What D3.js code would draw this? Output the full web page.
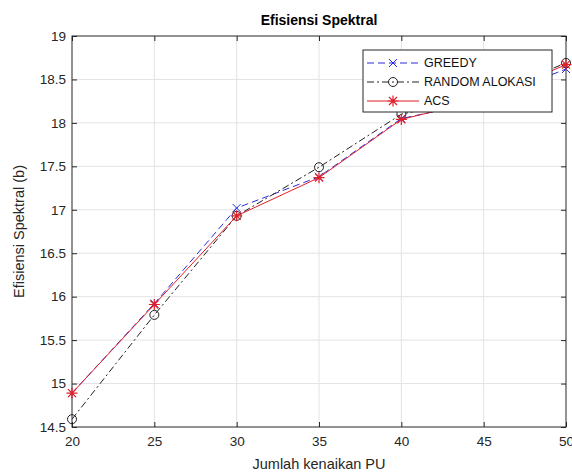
<!DOCTYPE html>
<html>
<head>
<meta charset="utf-8">
<script src="https://cdn.jsdelivr.net/npm/d3@7"></script>
<style>
  body { margin: 0; background: #fff; }
  text { font-family: "Liberation Sans", Arial, sans-serif; }
</style>
</head>
<body>
<svg id="chart" width="572" height="474"></svg>
<script>
var xValues = [20, 25, 30, 35, 40, 45, 50];
var greedy = [14.89, 15.92, 17.02, 17.38, 18.05, 18.25, 18.62];
var randomAlokasi = [14.59, 15.79, 16.93, 17.49, 18.10, 18.30, 18.69];
var acs = [14.89, 15.91, 16.93, 17.37, 18.04, 18.27, 18.67];
var xTicks = [20, 25, 30, 35, 40, 45, 50];
var yTicks = [14.5, 15, 15.5, 16, 16.5, 17, 17.5, 18, 18.5, 19];

var series = [
  {name: "GREEDY", values: greedy, color: "#2b2bd9", dash: "7,4", marker: "x"},
  {name: "RANDOM ALOKASI", values: randomAlokasi, color: "#222", dash: "7,3,2,3", marker: "o"},
  {name: "ACS", values: acs, color: "#e0202a", dash: null, marker: "*"}
];

var svg = d3.select("#chart"),
    margin = {top: 36, right: 6, bottom: 47, left: 72},
    width = +svg.attr("width") - margin.left - margin.right,
    height = +svg.attr("height") - margin.top - margin.bottom,
    g = svg.append("g").attr("transform", "translate(" + margin.left + "," + margin.top + ")");

var x = d3.scaleLinear().domain([20, 50]).range([0, width]);
var y = d3.scaleLinear().domain([14.5, 19]).range([height, 0]);

// grid
g.append("g").selectAll("line").data(xTicks.slice(1, -1)).enter().append("line")
  .attr("x1", function(d) { return x(d); }).attr("x2", function(d) { return x(d); })
  .attr("y1", 0).attr("y2", height)
  .attr("stroke", "#e3e3e3").attr("stroke-width", 1);
g.append("g").selectAll("line").data(yTicks.slice(1, -1)).enter().append("line")
  .attr("y1", function(d) { return y(d); }).attr("y2", function(d) { return y(d); })
  .attr("x1", 0).attr("x2", width)
  .attr("stroke", "#e3e3e3").attr("stroke-width", 1);

// axes
function styleAxis(sel) {
  sel.select(".domain").remove();
  sel.selectAll("line").attr("stroke", "#262626");
  sel.selectAll("text").attr("fill", "#262626").style("font-size", "13.5px");
}
g.append("g").attr("transform", "translate(0," + height + ")")
  .call(d3.axisBottom(x).tickValues(xTicks).tickSizeInner(-5).tickSizeOuter(0).tickPadding(9))
  .call(styleAxis);
g.append("g")
  .call(d3.axisLeft(y).tickValues(yTicks).tickFormat(function(d) { return String(d); })
    .tickSizeInner(-5).tickSizeOuter(0).tickPadding(6))
  .call(styleAxis);
g.append("g")
  .call(d3.axisTop(x).tickValues(xTicks).tickSizeInner(-5).tickSizeOuter(0).tickFormat(""))
  .call(styleAxis);
g.append("g").attr("transform", "translate(" + width + ",0)")
  .call(d3.axisRight(y).tickValues(yTicks).tickSizeInner(-5).tickSizeOuter(0).tickFormat(""))
  .call(styleAxis);
g.append("rect").attr("width", width).attr("height", height)
  .attr("fill", "none").attr("stroke", "#262626").attr("stroke-width", 1);

var line = d3.line()
  .x(function(d, i) { return x(xValues[i]); })
  .y(function(d) { return y(d); });

function drawMarker(sel, type, color) {
  if (type === "o") {
    sel.append("circle").attr("r", 4.5).attr("fill", "none").attr("stroke", color).attr("stroke-width", 1);
  } else if (type === "x") {
    sel.append("path").attr("d", "M-4,-4L4,4M-4,4L4,-4").attr("stroke", color).attr("stroke-width", 1);
  } else {
    sel.append("path").attr("d", "M-4,-4L4,4M-4,4L4,-4M0,-5.5L0,5.5M-5.5,0L5.5,0").attr("stroke", color).attr("stroke-width", 1.2);
  }
}

var s = g.selectAll(".series").data(series).enter().append("g").attr("class", "series");
s.append("path")
  .attr("d", function(d) { return line(d.values); })
  .attr("fill", "none")
  .attr("stroke", function(d) { return d.color; })
  .attr("stroke-width", 1)
  .attr("stroke-dasharray", function(d) { return d.dash; });
s.each(function(d) {
  var grp = d3.select(this);
  d.values.forEach(function(v, i) {
    var m = grp.append("g").attr("transform", "translate(" + x(xValues[i]) + "," + y(v) + ")");
    drawMarker(m, d.marker, d.color);
  });
});

// legend
var lg = svg.append("g").attr("transform", "translate(363,50)");
lg.append("rect").attr("width", 189).attr("height", 62)
  .attr("fill", "#fff").attr("stroke", "#262626").attr("stroke-width", 1);
var item = lg.selectAll(".item").data(series).enter().append("g")
  .attr("transform", function(d, i) { return "translate(0," + (13 + i * 19) + ")"; });
item.append("line").attr("x1", 4).attr("x2", 56).attr("y1", 0).attr("y2", 0)
  .attr("stroke", function(d) { return d.color; })
  .attr("stroke-dasharray", function(d) { return d.dash; });
item.each(function(d) {
  var m = d3.select(this).append("g").attr("transform", "translate(30,0)");
  drawMarker(m, d.marker, d.color);
});
item.append("text").attr("x", 61).attr("dy", "0.35em")
  .style("font-size", "12.5px").attr("fill", "#111")
  .text(function(d) { return d.name; });

// titles
svg.append("text").attr("x", margin.left + width / 2).attr("y", 25)
  .attr("text-anchor", "middle").style("font-size", "14px").style("font-weight", "bold")
  .attr("fill", "#000").text("Efisiensi Spektral");
svg.append("text").attr("x", margin.left + width / 2).attr("y", 469)
  .attr("text-anchor", "middle").style("font-size", "14.5px").attr("fill", "#262626")
  .text("Jumlah kenaikan PU");
svg.append("text").attr("transform", "translate(24," + (margin.top + height / 2) + ") rotate(-90)")
  .attr("text-anchor", "middle").style("font-size", "14.5px").attr("fill", "#262626")
  .text("Efisiensi Spektral (b)");
</script>
</body>
</html>
